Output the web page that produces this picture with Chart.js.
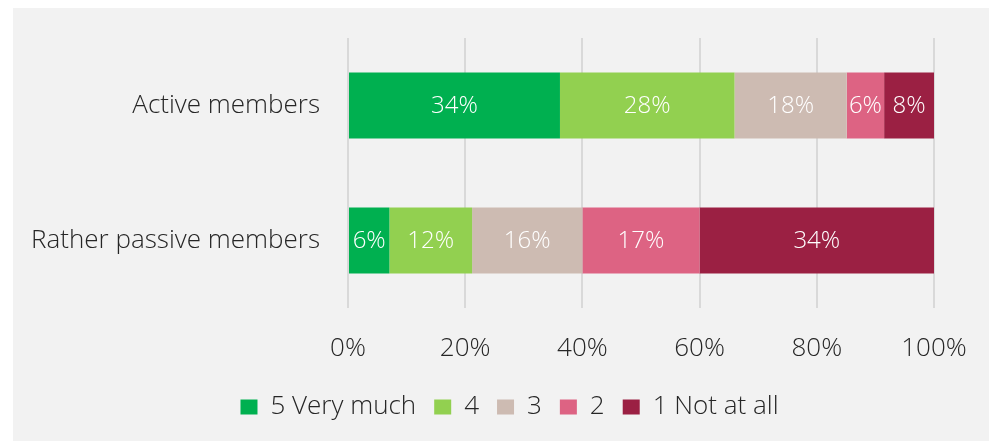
<!DOCTYPE html>
<html>
<head>
<meta charset="utf-8">
<script src="https://cdn.jsdelivr.net/npm/chart.js@4.4.1/dist/chart.umd.min.js"></script>
<style>
  html, body { margin: 0; padding: 0; background: #ffffff; }
  #panel { position: absolute; left: 13px; top: 8px; width: 976px; height: 433px; background: #f2f2f2; }
</style>
</head>
<body>
<div id="panel"><canvas id="grafico" width="976" height="433"></canvas></div>
<script>
// Survey answers per group, in percent as printed on the bars
const grupos = ['Active members', 'Rather passive members'];
const respostas = ['5 Very much', '4', '3', '2', '1 Not at all'];
const valores = [
    [34, 6],   // 5 Very much
    [28, 12],  // 4
    [18, 16],  // 3
    [6, 17],   // 2
    [8, 34]    // 1 Not at all
];
const cores = ['#00b050', '#92d050', '#cdbbb2', '#dd6383', '#9b2043'];
const ticksX = [0, 20, 40, 60, 80, 100];

const fonte = "'Open Sans', sans-serif";

// each bar is stretched to 100% (share of the answers given)
const totais = grupos.map((_, g) => valores.reduce((s, serie) => s + serie[g], 0));

const datasets = respostas.map((nome, i) => ({
    label: nome,
    data: valores[i].map((v, g) => v / totais[g] * 100),
    rotulos: valores[i],
    backgroundColor: cores[i],
    borderWidth: 0,
    categoryPercentage: 1,
    barPercentage: 0.49
}));

// white value labels in the middle of each segment
const rotulosBarra = {
    id: 'rotulosBarra',
    afterDatasetsDraw(chart) {
        const ctx = chart.ctx;
        ctx.save();
        ctx.fillStyle = '#ffffff';
        ctx.font = '300 24px ' + fonte;
        ctx.textAlign = 'center';
        ctx.textBaseline = 'middle';
        chart.data.datasets.forEach((ds, i) => {
            chart.getDatasetMeta(i).data.forEach((bar, j) => {
                const x = (bar.x + bar.base) / 2;
                ctx.fillText(ds.rotulos[j] + '%', x, bar.y + 1);
            });
        });
        ctx.restore();
    }
};

new Chart(document.getElementById('grafico').getContext('2d'), {
    type: 'bar',
    data: { labels: grupos, datasets },
    plugins: [rotulosBarra],
    options: {
        indexAxis: 'y',
        responsive: false,
        animation: false,
        layout: { padding: { top: 30, right: 0, bottom: 11, left: 17 } },
        scales: {
            x: {
                stacked: true,
                min: 0,
                max: 100,
                afterBuildTicks: (scale) => { scale.ticks = ticksX.map(v => ({ value: v })); },
                afterFit: (scale) => { scale.height = 68; scale.paddingRight = 55; scale.paddingLeft = 0; },
                ticks: {
                    callback: (v) => v + '%',
                    color: '#262626',
                    font: { family: fonte, size: 26, weight: 300 },
                    padding: 25
                },
                grid: { color: '#d9d9d9', lineWidth: 2, drawTicks: false },
                border: { display: false }
            },
            y: {
                stacked: true,
                afterFit: (scale) => { scale.width = 318; scale.paddingTop = 0; scale.paddingBottom = 0; },
                ticks: {
                    color: '#262626',
                    font: { family: fonte, size: 26, weight: 300 },
                    padding: 20
                },
                grid: { display: false },
                border: { display: false }
            }
        },
        plugins: {
            legend: {
                position: 'bottom',
                labels: {
                    color: '#262626',
                    font: { family: fonte, size: 26, weight: 300 },
                    boxWidth: 17,
                    boxHeight: 15,
                    padding: 18
                }
            },
            tooltip: { enabled: false }
        }
    }
});
</script>
</body>
</html>
